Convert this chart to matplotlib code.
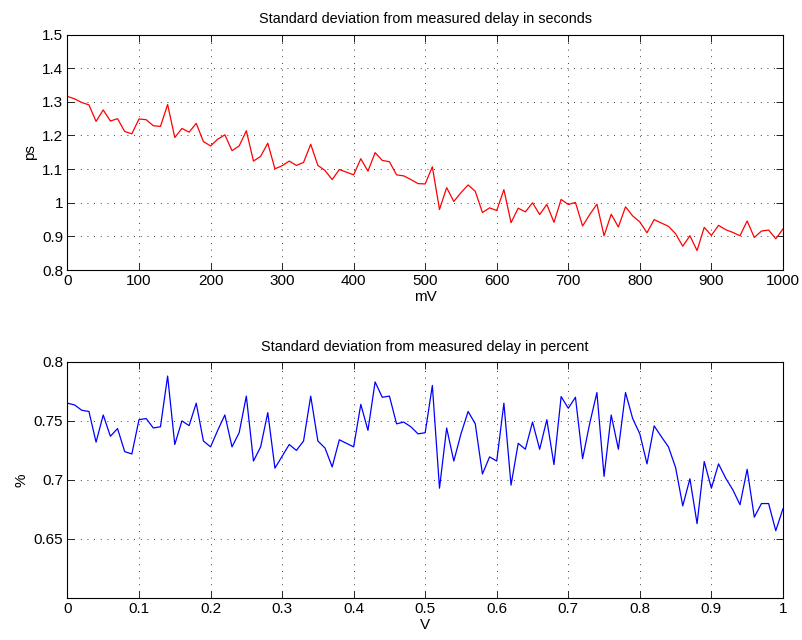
import numpy as np
import matplotlib
matplotlib.use("Agg")
import matplotlib.pyplot as plt

plt.rcParams['font.family'] = ['Liberation Sans', 'DejaVu Sans']

# voltage sweep, 10 mV steps
mv = np.arange(0, 1001, 10)
volts = mv / 1000.0

# standard deviation of delay in ps
std_ps = [
    1.316, 1.309, 1.298, 1.291, 1.242, 1.276, 1.243, 1.250, 1.212, 1.205,
    1.249, 1.247, 1.229, 1.227, 1.292, 1.194, 1.221, 1.210, 1.236, 1.182,
    1.169, 1.189, 1.202, 1.155, 1.169, 1.214, 1.124, 1.138, 1.177, 1.101,
    1.110, 1.124, 1.111, 1.120, 1.174, 1.111, 1.096, 1.069, 1.099, 1.091,
    1.083, 1.131, 1.094, 1.149, 1.126, 1.122, 1.083, 1.080, 1.069, 1.057,
    1.056, 1.107, 0.980, 1.045, 1.004, 1.030, 1.053, 1.034, 0.971, 0.985,
    0.977, 1.039, 0.941, 0.984, 0.973, 1.000, 0.965, 0.995, 0.942, 1.010,
    0.995, 1.001, 0.931, 0.965, 0.996, 0.902, 0.966, 0.928, 0.988, 0.961,
    0.943, 0.911, 0.950, 0.940, 0.930, 0.908, 0.871, 0.902, 0.858, 0.927,
    0.903, 0.933, 0.920, 0.912, 0.902, 0.946, 0.897, 0.916, 0.919, 0.893,
    0.922,
]

# standard deviation of delay in percent
std_pct = [
    0.765, 0.7635, 0.759, 0.758, 0.732, 0.755, 0.737, 0.7435, 0.724, 0.722,
    0.751, 0.752, 0.744, 0.745, 0.788, 0.730, 0.750, 0.746, 0.765, 0.733,
    0.728, 0.742, 0.755, 0.728, 0.740, 0.771, 0.716, 0.728, 0.757, 0.710,
    0.720, 0.730, 0.725, 0.733, 0.771, 0.733, 0.727, 0.711, 0.734, 0.731,
    0.728, 0.764, 0.742, 0.783, 0.770, 0.771, 0.7475, 0.749, 0.745, 0.739,
    0.740, 0.780, 0.693, 0.744, 0.716, 0.739, 0.758, 0.7475, 0.705, 0.7195,
    0.716, 0.765, 0.6956, 0.731, 0.726, 0.749, 0.726, 0.751, 0.713, 0.7706,
    0.7607, 0.770, 0.718, 0.748, 0.774, 0.703, 0.755, 0.726, 0.774, 0.752,
    0.739, 0.7136, 0.7458, 0.7367, 0.728, 0.7105, 0.678, 0.701, 0.663, 0.7156,
    0.693, 0.7136, 0.7015, 0.6916, 0.679, 0.709, 0.6685, 0.680, 0.680, 0.657,
    0.6755,
]

fig = plt.figure(figsize=(8.03, 6.40), dpi=100)
ax1 = fig.add_axes([0.084, 0.578, 0.891, 0.368])
ax2 = fig.add_axes([0.084, 0.0656, 0.891, 0.369])


def style(ax):
    ax.grid(True, linestyle=(0, (1, 7)), color='black', linewidth=0.6)
    ax.tick_params(direction='in', top=True, right=True, length=5,
                   width=0.6, labelsize=11, pad=3)
    for sp in ax.spines.values():
        sp.set_linewidth(0.8)


ax1.plot(mv, std_ps, color='red', linewidth=0.9)
ax1.set_xlim(0, 1000)
ax1.set_ylim(0.8, 1.5)
ax1.set_xticks(np.arange(0, 1001, 100))
ax1.set_yticks([0.8, 0.9, 1.0, 1.1, 1.2, 1.3, 1.4, 1.5])
ax1.set_yticklabels(['0.8', '0.9', '1', '1.1', '1.2', '1.3', '1.4', '1.5'])
ax1.set_title('Standard deviation from measured delay in seconds', fontsize=10.4, pad=8)
ax1.set_xlabel('mV', fontsize=11, labelpad=1)
ax1.set_ylabel('ps', fontsize=11, labelpad=4)
style(ax1)

ax2.plot(volts, std_pct, color='blue', linewidth=0.9)
ax2.set_xlim(0, 1)
ax2.set_ylim(0.6, 0.8)
ax2.set_xticks(np.arange(0, 1.01, 0.1))
ax2.set_xticklabels(['0', '0.1', '0.2', '0.3', '0.4', '0.5', '0.6', '0.7', '0.8', '0.9', '1'])
ax2.set_yticks([0.65, 0.7, 0.75, 0.8])
ax2.set_yticklabels(['0.65', '0.7', '0.75', '0.8'])
ax2.set_title('Standard deviation from measured delay in percent', fontsize=10.4, pad=8)
ax2.set_xlabel('V', fontsize=11, labelpad=1)
ax2.set_ylabel('%', fontsize=11, labelpad=4)
style(ax2)

fig.savefig('out.png', dpi=100)
